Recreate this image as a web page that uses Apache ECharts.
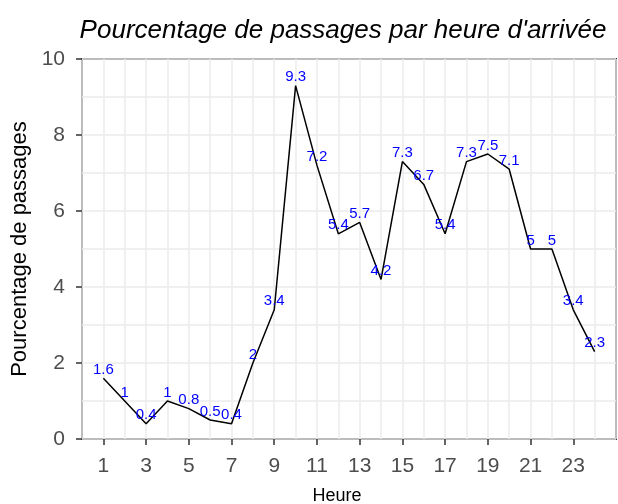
<!DOCTYPE html>
<html>
<head>
<meta charset="utf-8">
<script src="https://cdn.jsdelivr.net/npm/echarts@6/dist/echarts.min.js"></script>
<style>
  html, body { margin: 0; padding: 0; background: #fff; }
  #main { width: 618px; height: 504px; }
</style>
</head>
<body>
<div id="main"></div>
<script>
var heures = [1, 2, 3, 4, 5, 6, 7, 8, 9, 10, 11, 12, 13, 14, 15, 16, 17, 18, 19, 20, 21, 22, 23, 24];
var pourcentages = [1.6, 1, 0.4, 1, 0.8, 0.5, 0.4, 2, 3.4, 9.3, 7.2, 5.4, 5.7, 4.2, 7.3, 6.7, 5.4, 7.3, 7.5, 7.1, 5, 5, 3.4, 2.3];
var xTicks = [1, 3, 5, 7, 9, 11, 13, 15, 17, 19, 21, 23];

var chartDom = document.getElementById('main');
var myChart = echarts.init(chartDom);
var option;

var font = 'Liberation Sans, Arial, sans-serif';

option = {
    animation: false,
    textStyle: { fontFamily: font },
    title: {
        text: "Pourcentage de passages par heure d'arrivée",
        left: 338,
        top: 13,
        textAlign: 'center',
        textStyle: {
            fontStyle: 'italic',
            fontWeight: 'normal',
            fontSize: 26,
            color: '#000',
            fontFamily: font
        }
    },
    grid: {
        left: 82,
        right: 2,
        top: 59,
        bottom: 65,
        outerBoundsMode: 'none',
        show: true,
        borderColor: '#333',
        borderWidth: 2,
        backgroundColor: '#fff'
    },
    xAxis: [
        {
            // grid lines at every hour
            type: 'value',
            min: 0,
            max: 25,
            interval: 1,
            axisLine: { show: false },
            axisTick: { show: false },
            axisLabel: { show: false },
            splitLine: { show: true, lineStyle: { color: '#ebebeb', width: 1.5 } }
        },
        {
            type: 'value',
            min: 0,
            max: 25,
            position: 'bottom',
            name: 'Heure',
            nameLocation: 'middle',
            nameGap: 48,
            nameTextStyle: { fontSize: 18, color: '#000', fontFamily: font, padding: [0, 24, 0, 0] },
            axisLine: { show: false },
            axisTick: { show: true, length: 6, customValues: xTicks, lineStyle: { color: '#333', width: 1.5 } },
            axisLabel: { customValues: xTicks, fontSize: 21, color: '#4d4d4d', margin: 17, fontFamily: font },
            splitLine: { show: false }
        }
    ],
    yAxis: {
        type: 'value',
        min: 0,
        max: 10,
        interval: 2,
        name: 'Pourcentage de passages',
        nameLocation: 'middle',
        nameGap: 50,
        nameTextStyle: { fontSize: 22, color: '#000', fontFamily: font },
        axisLine: { show: false },
        axisTick: { show: true, length: 6, lineStyle: { color: '#333', width: 1.5 } },
        axisLabel: { fontSize: 21, color: '#4d4d4d', margin: 17, fontFamily: font },
        splitLine: { show: true, lineStyle: { color: '#ebebeb', width: 1.5 } },
        minorTick: { show: false, splitNumber: 2 },
        minorSplitLine: { show: true, lineStyle: { color: '#ebebeb', width: 1.5 } }
    },
    series: [
        {
            type: 'line',
            xAxisIndex: 0,
            data: heures.map(function (h, i) { return [h, pourcentages[i]]; }),
            symbol: 'circle',
            symbolSize: 0,
            showSymbol: true,
            lineStyle: { color: '#000', width: 1.5 },
            itemStyle: { color: '#000' },
            label: {
                show: true,
                position: 'top',
                distance: 1,
                color: '#0000ff',
                fontSize: 15,
                fontFamily: font,
                formatter: function (p) { return String(p.value[1]); }
            }
        }
    ]
};

option && myChart.setOption(option);
</script>
</body>
</html>
